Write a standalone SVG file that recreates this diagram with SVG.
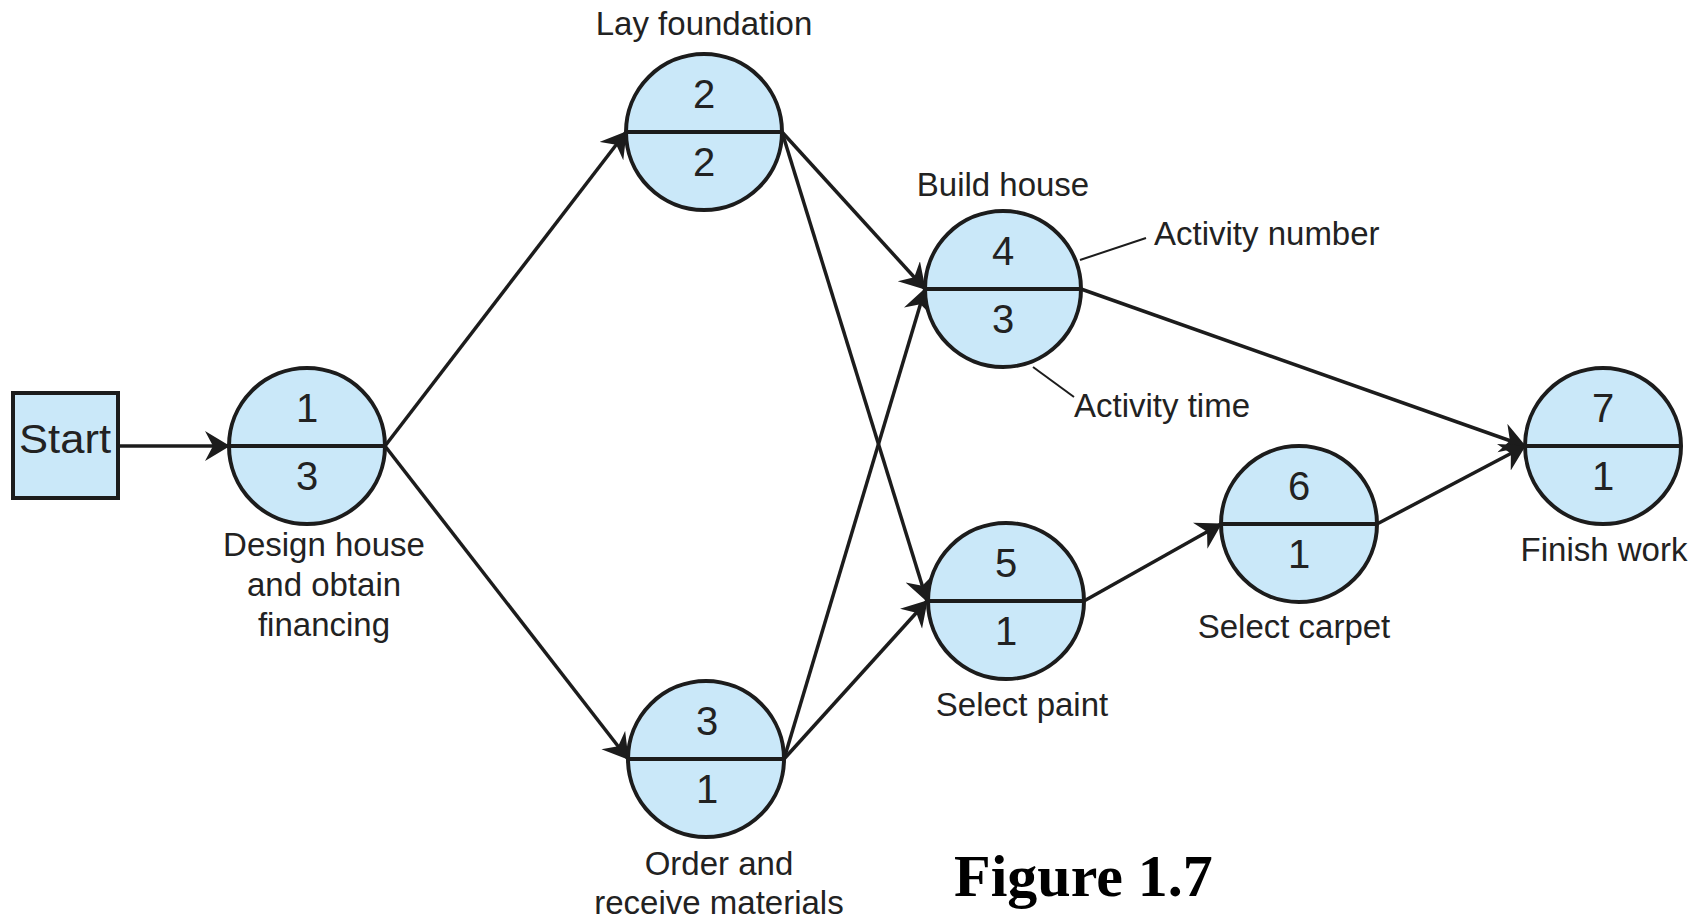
<svg xmlns="http://www.w3.org/2000/svg" width="1708" height="920" viewBox="0 0 1708 920">
  <style>
    .node circle { fill: #cae8f9; stroke: #1c1c1c; stroke-width: 4; }
    .node line { stroke: #1c1c1c; stroke-width: 4; }
    .num { font-family: "Liberation Sans", Arial, sans-serif; font-size: 40px; fill: #222; text-anchor: middle; }
    .lbl { font-family: "Liberation Sans", Arial, sans-serif; font-size: 33px; fill: #222; text-anchor: middle; }
    .lbl-start { text-anchor: start; }
    .conn line { stroke: #1c1c1c; stroke-width: 3.5; marker-end: url(#arrow); }
    .leader { stroke: #1c1c1c; stroke-width: 2; fill: none; }
    .caption { font-family: "Liberation Serif", "Times New Roman", serif; font-weight: bold; font-size: 60px; fill: #000; }
  </style>
  <defs>
    <marker id="arrow" markerUnits="userSpaceOnUse" markerWidth="28" markerHeight="32" refX="24" refY="15" orient="auto">
      <path d="M0,0 L25,15 L0,30 L8,15 z" fill="#1c1c1c"/>
    </marker>
  </defs>

  <rect width="1708" height="920" fill="#ffffff"/>

  <!-- connectors -->
  <g id="connectors" class="conn">
    <line x1="118" y1="446" x2="229" y2="446"/>
    <line x1="385" y1="446" x2="626" y2="132"/>
    <line x1="385" y1="446" x2="628" y2="759"/>
    <line x1="782" y1="132" x2="925" y2="289"/>
    <line x1="782" y1="132" x2="927" y2="601"/>
    <line x1="784" y1="759" x2="925" y2="289"/>
    <line x1="784" y1="759" x2="927" y2="601"/>
    <line x1="1081" y1="289" x2="1525" y2="446"/>
    <line x1="1084" y1="601" x2="1221" y2="524"/>
    <line x1="1377" y1="524" x2="1525" y2="446"/>
  </g>

  <!-- start box -->
  <g id="start">
    <rect x="13" y="393" width="105" height="105" fill="#cae8f9" stroke="#1c1c1c" stroke-width="4"/>
    <text class="lbl" x="65" y="453" style="font-size:41px" textLength="92" lengthAdjust="spacingAndGlyphs">Start</text>
  </g>

  <!-- activity nodes: number on top, time below -->
  <g id="node1" class="node">
    <circle cx="307" cy="446" r="78"/>
    <line x1="229" y1="446" x2="385" y2="446"/>
    <text class="num" x="307" y="422">1</text>
    <text class="num" x="307" y="490">3</text>
    <text class="lbl" x="324" y="556">Design house</text>
    <text class="lbl" x="324" y="596">and obtain</text>
    <text class="lbl" x="324" y="636">financing</text>
  </g>

  <g id="node2" class="node">
    <circle cx="704" cy="132" r="78"/>
    <line x1="626" y1="132" x2="782" y2="132"/>
    <text class="num" x="704" y="108">2</text>
    <text class="num" x="704" y="176">2</text>
    <text class="lbl" x="704" y="35">Lay foundation</text>
  </g>

  <g id="node3" class="node">
    <circle cx="706" cy="759" r="78"/>
    <line x1="628" y1="759" x2="784" y2="759"/>
    <text class="num" x="707" y="735">3</text>
    <text class="num" x="707" y="803">1</text>
    <text class="lbl" x="719" y="875">Order and</text>
    <text class="lbl" x="719" y="914">receive materials</text>
  </g>

  <g id="node4" class="node">
    <circle cx="1003" cy="289" r="78"/>
    <line x1="925" y1="289" x2="1081" y2="289"/>
    <text class="num" x="1003" y="265">4</text>
    <text class="num" x="1003" y="333">3</text>
    <text class="lbl" x="1003" y="196">Build house</text>
  </g>

  <g id="node5" class="node">
    <circle cx="1006" cy="601" r="78"/>
    <line x1="928" y1="601" x2="1084" y2="601"/>
    <text class="num" x="1006" y="577">5</text>
    <text class="num" x="1006" y="645">1</text>
    <text class="lbl" x="1022" y="716">Select paint</text>
  </g>

  <g id="node6" class="node">
    <circle cx="1299" cy="524" r="78"/>
    <line x1="1221" y1="524" x2="1377" y2="524"/>
    <text class="num" x="1299" y="500">6</text>
    <text class="num" x="1299" y="568">1</text>
    <text class="lbl" x="1294" y="638">Select carpet</text>
  </g>

  <g id="node7" class="node">
    <circle cx="1603" cy="446" r="78"/>
    <line x1="1525" y1="446" x2="1681" y2="446"/>
    <text class="num" x="1603" y="422">7</text>
    <text class="num" x="1603" y="490">1</text>
    <text class="lbl" x="1604" y="561">Finish work</text>
  </g>

  <!-- legend callouts on node 4 -->
  <g id="legend">
    <line class="leader" x1="1080" y1="260" x2="1146" y2="238"/>
    <text class="lbl lbl-start" x="1154" y="245">Activity number</text>
    <line class="leader" x1="1033" y1="367" x2="1074" y2="397"/>
    <text class="lbl lbl-start" x="1074" y="417">Activity time</text>
  </g>

  <text id="caption" class="caption" x="954" y="896">Figure 1.7</text>
</svg>
